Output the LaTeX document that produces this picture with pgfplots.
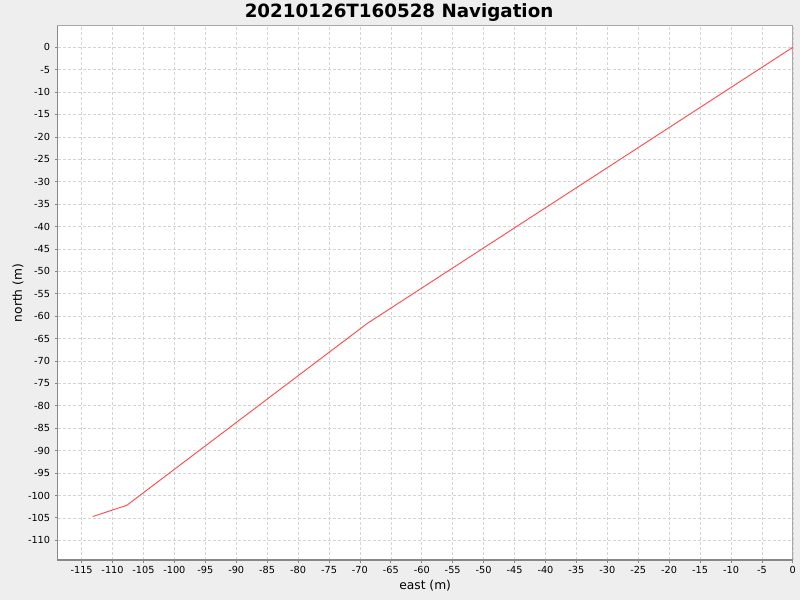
\documentclass[border=0pt]{standalone}
\usepackage{pgfplots}
\pgfplotsset{compat=1.18}
\usepackage{fontspec}
\setmainfont{DejaVu Sans}
\definecolor{chartbg}{HTML}{EEEEEE}
\definecolor{gridgray}{HTML}{D4D4D4}
\definecolor{axisgray}{HTML}{888888}
\definecolor{outlinegray}{HTML}{A8A8A8}
\definecolor{navred}{HTML}{FF5555}
\begin{document}
\begin{tikzpicture}
% 1 px = 0.75 pt, picture is 800 x 600 px
\fill[chartbg,use as bounding box] (0,0) rectangle (600pt,450pt);
\begin{axis}[
    at={(43.125pt,30pt)}, anchor=south west,
    scale only axis,
    width=551.5pt, height=400.5pt,
    xmin=-118.9, xmax=0,
    ymin=-114.4, ymax=4.75,
    xtick={-115,-110,...,0},
    ytick={-110,-105,...,0},
    xtick pos=left, ytick pos=left,
    tick align=outside,
    major tick length=2pt,
    tick style={axisgray, line width=0.6pt},
    axis background/.style={fill=white},
    axis line style={outlinegray, line width=0.75pt},
    grid=major,
    major grid style={gridgray, line width=0.5pt, dash pattern=on 2.25pt off 1.5pt},
    /pgf/number format/assume math mode=true,
    ticklabel style={font=\fontsize{7.3}{8}\selectfont},
    xticklabel style={yshift=0.5pt},
    xlabel={east (m)},
    ylabel={north (m)},
    label style={font=\fontsize{9.2}{11}\selectfont},
    xlabel style={at={(axis description cs:0.5,-0.0487)}, anchor=center},
    ylabel style={at={(axis description cs:-0.0537,0.5)}, anchor=center, rotate=0},
    after end axis/.code={
        \draw[axisgray, line width=0.75pt] (rel axis cs:0,1) -- (rel axis cs:0,0) -- (rel axis cs:1,0);
    },
]
\addplot[navred, line width=0.75pt, mark=none] coordinates {
    (0,0)
    (-68.8,-61.6)
    (-107.7,-102.2)
    (-113.2,-104.7)
};
\end{axis}
\node[anchor=center, font=\fontsize{13.7}{16}\selectfont\bfseries]
    at (299.25pt,440.6pt) {20210126T160528 Navigation};
\end{tikzpicture}
\end{document}
